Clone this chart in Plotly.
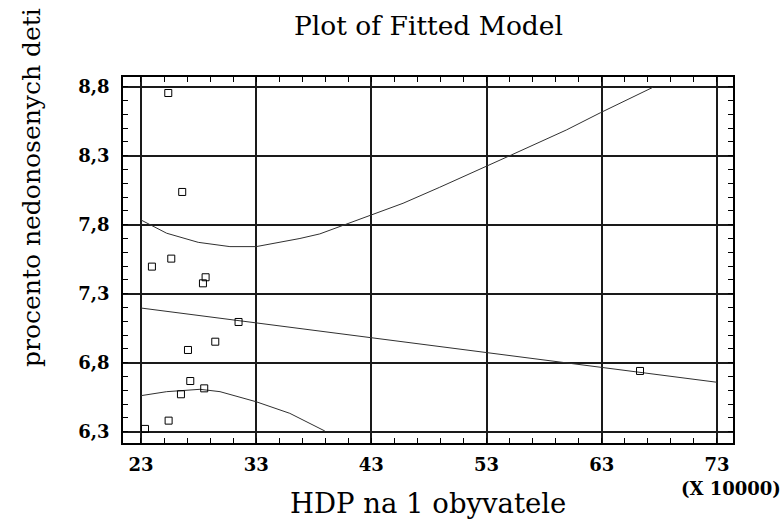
import plotly.graph_objects as go

# observed data points (HDP in 10000s, percent)
obs_x = [25.37, 26.58, 25.63, 23.95, 28.61, 28.38, 31.47, 29.45, 27.08, 27.28, 28.49, 26.47, 25.40, 23.35, 66.32]
obs_y = [8.754, 8.037, 7.554, 7.496, 7.419, 7.375, 7.095, 6.952, 6.892, 6.667, 6.614, 6.571, 6.380, 6.320, 6.740]

# fitted line
fit_x = [23, 73]
fit_y = [7.196, 6.658]

# upper limit curve
up_x = [23, 25.23, 27.97, 30.72, 33, 36.8, 38.52, 40.84, 42.95, 45.75, 48.93, 52.98, 55.15, 59.92, 62.9, 67.43]
up_y = [7.834, 7.738, 7.672, 7.641, 7.641, 7.700, 7.733, 7.805, 7.865, 7.955, 8.071, 8.220, 8.305, 8.486, 8.612, 8.795]

# lower limit curve
lo_x = [23, 25.23, 28.12, 29.86, 33, 35.92, 38.96]
lo_y = [6.561, 6.590, 6.607, 6.590, 6.517, 6.433, 6.305]

x_ticks = [23, 33, 43, 53, 63, 73]
y_ticks = [6.3, 6.8, 7.3, 7.8, 8.3, 8.8]

title_text = "Plot of Fitted Model"
x_title = "HDP na 1 obyvatele"
y_title = "procento nedonosenych deti"
x_mult = "(X 10000)"

SERIF = "DejaVu Serif"
line_col = "#303030"

fig = go.Figure()
for cx, cy in [(fit_x, fit_y), (up_x, up_y), (lo_x, lo_y)]:
    fig.add_trace(go.Scatter(x=cx, y=cy, mode="lines",
                             line=dict(color=line_col, width=1),
                             hoverinfo="skip", showlegend=False))
fig.add_trace(go.Scatter(x=obs_x, y=obs_y, mode="markers",
                         marker=dict(symbol="square-open", size=7,
                                     color="black", line=dict(width=1, color="black")),
                         showlegend=False))

W, H = 784, 526
L, R, T, B = 123, 51, 77, 83
pw, ph = W - L - R, H - T - B

def px_to_paper_x(px):
    return (px - L) / pw

def px_to_paper_y(py):
    return (H - B - py) / ph

axis_common = dict(
    showline=True, linecolor="black", linewidth=1.5, mirror="allticks",
    showgrid=True, gridcolor="#1a1a1a", gridwidth=1.5,
    zeroline=False,
    ticks="inside", ticklen=5, tickcolor="black", tickwidth=1,
    tickfont=dict(family=SERIF, size=18, color="black", weight="bold"),
)

fig.update_layout(
    width=W, height=H,
    margin=dict(l=L, r=R, t=T, b=B),
    paper_bgcolor="white", plot_bgcolor="white",
    separators=", ",
    xaxis=dict(range=[21.44, 74.39], tickmode="array", tickvals=x_ticks,
               ticktext=[str(v) for v in x_ticks],
               minor=dict(dtick=2, tick0=23, ticks="inside", ticklen=5,
                          tickcolor="black", tickwidth=1, showgrid=False),
               ticklabelstandoff=5,
               **axis_common),
    yaxis=dict(range=[6.218, 8.870], tickmode="array", tickvals=y_ticks,
               ticktext=[f"{v:.1f}".replace(".", ",") for v in y_ticks],
               minor=dict(dtick=0.1, tick0=6.3, ticks="inside", ticklen=5,
                          tickcolor="black", tickwidth=1, showgrid=False),
               ticklabelstandoff=8,
               **axis_common),
    annotations=[
        dict(text=title_text, xref="paper", yref="paper",
             x=px_to_paper_x(428), y=px_to_paper_y(26), xanchor="center", yanchor="middle",
             showarrow=False, font=dict(family=SERIF, size=26.5, color="black")),
        dict(text=x_title, xref="paper", yref="paper",
             x=px_to_paper_x(428), y=px_to_paper_y(503), xanchor="center", yanchor="middle",
             showarrow=False, font=dict(family=SERIF, size=27.5, color="black")),
        dict(text=x_mult, xref="paper", yref="paper",
             x=px_to_paper_x(783), y=px_to_paper_y(488), xanchor="right", yanchor="middle",
             showarrow=False, font=dict(family=SERIF, size=18, color="black", weight="bold")),
        dict(text=y_title, xref="paper", yref="paper", textangle=-90,
             x=px_to_paper_x(31), y=px_to_paper_y(188), xanchor="center", yanchor="middle",
             showarrow=False, font=dict(family=SERIF, size=25, color="black")),
    ],
)

fig.write_html("out.html", config={"displayModeBar": False},
               post_script="document.body.style.margin='0';document.body.style.overflow='hidden';")
